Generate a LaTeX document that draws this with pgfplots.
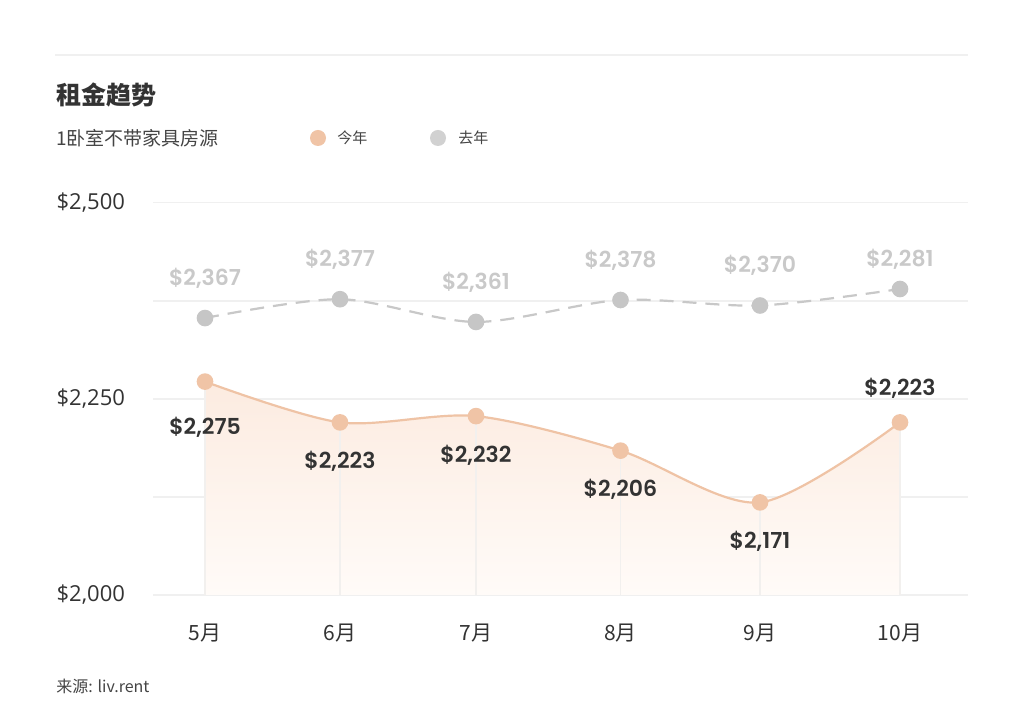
\documentclass[border=0pt]{standalone}
\usepackage{pgfplots}
\pgfplotsset{compat=1.18}
\usepackage{pgfplotstable}
\usepackage{fontspec}
\setmainfont{Open Sans}
\newfontfamily\cjk{Noto Sans CJK SC}
\IfFontExistsTF{Poppins SemiBold}
  {\newfontfamily\pop{Poppins}[BoldFont={Poppins SemiBold}]}
  {\newfontfamily\pop{Poppins}}

\definecolor{orangeline}{HTML}{EFC3A5}
\definecolor{orangedot}{HTML}{F0C4A6}
\definecolor{greydot}{HTML}{C6C6C6}
\definecolor{greyline}{HTML}{C8C8C8}
\definecolor{greytext}{HTML}{C9C9C9}
\definecolor{darktext}{HTML}{333333}
\definecolor{midtext}{HTML}{444444}
\definecolor{gridc}{HTML}{F0F0F0}
\definecolor{vline}{HTML}{F2F0EE}
\definecolor{filltop}{HTML}{FCEBE0}
\definecolor{fillbot}{HTML}{FFFBF8}

% x = horizontal position of each month, y = plotted level, label = printed value
\pgfplotstableread{
x     y     label
205   2272  2,275
340   2220  2,223
476   2228  2,232
620.5 2184  2,206
760   2118  2,171
900   2220  2,223
}\thisyear

\pgfplotstableread{
x     y     label
205   2353  2,367
340   2377  2,377
476   2348  2,361
620.5 2376  2,378
760   2369  2,370
900   2390  2,281
}\lastyear

\begin{document}
\begin{tikzpicture}[x=0.5pt,y=0.5pt]
\fill[white] (0,0) rectangle (1024,717);

% header
\draw[gridc, line width=0.75pt] (55,662) -- (968,662);
\node[anchor=west, inner sep=0pt, text=darktext,
      font=\cjk\bfseries\fontsize{12.5}{14}\selectfont] at (56,622) {租金趋势};
\node[anchor=west, inner sep=0pt, text=midtext,
      font=\cjk\fontsize{9.5}{11}\selectfont] at (56,579) {1卧室不带家具房源};
\fill[orangedot] (318,579) circle (4pt);
\node[anchor=west, inner sep=0pt, text=midtext,
      font=\cjk\fontsize{7.5}{9}\selectfont] at (337,579) {今年};
\fill[greydot!80] (438,579) circle (4pt);
\node[anchor=west, inner sep=0pt, text=midtext,
      font=\cjk\fontsize{7.5}{9}\selectfont] at (458,579) {去年};
\node[anchor=west, inner sep=0pt, text=midtext,
      font=\cjk\fontsize{8}{9}\selectfont] at (56,31) {来源: liv.rent};

\begin{axis}[
    at={(76.5pt,61pt)}, anchor=south west,
    scale only axis, width=407.5pt, height=196.15pt,
    xmin=153, xmax=968, ymin=2000, ymax=2500,
    axis line style={draw=none},
    major tick style={draw=none}, minor tick style={draw=none},
    ytick={2000,2250,2500},
    yticklabels={{\$2,000},{\$2,250},{\$2,500}},
    minor ytick={2125,2375},
    ymajorgrids, yminorgrids,
    major grid style={gridc, line width=0.75pt},
    minor grid style={gridc, line width=0.75pt},
    xtick={205,340,476,620.5,760,900},
    xticklabels={5月,6月,7月,8月,9月,10月},
    xticklabel style={font=\cjk\fontsize{10.5}{12}\selectfont, text=darktext, yshift=-11pt},
    yticklabel style={font=\fontsize{11}{12}\selectfont, text=darktext, xshift=-10.5pt},
]

% shaded area under this year's curve
\addplot[draw=none, smooth, tension=0.5, top color=filltop, bottom color=fillbot]
    table[x=x, y=y] {\thisyear} \closedcycle;
% faint drop lines
\addplot[ycomb, vline, line width=0.6pt, mark=none] table[x=x, y=y] {\thisyear};

% last year
\addplot[greyline, line width=1.1pt, dash pattern=on 7pt off 4.5pt, smooth, tension=0.5,
    mark=*, mark size=3.6pt, mark options={solid, fill=greydot, draw=greydot}]
    table[x=x, y=y] {\lastyear};
% this year
\addplot[orangeline, line width=1.1pt, smooth, tension=0.5,
    mark=*, mark size=3.6pt, mark options={fill=orangedot, draw=orangedot}]
    table[x=x, y=y] {\thisyear};

% value labels
\addplot[draw=none, mark=none, point meta=explicit symbolic,
    nodes near coords={\$\pgfplotspointmeta},
    every node near coord/.style={anchor=center, yshift=20pt, text=greytext,
        font=\pop\bfseries\fontsize{11}{12}\selectfont}]
    table[x=x, y=y, meta=label] {
x y label
205 2353 2,367
340 2377 2,377
476 2348 2,361
620.5 2376 2,378
760 2369 2,370
};
\addplot[draw=none, mark=none, point meta=explicit symbolic,
    nodes near coords={\$\pgfplotspointmeta},
    every node near coord/.style={anchor=center, yshift=15pt, text=greytext,
        font=\pop\bfseries\fontsize{11}{12}\selectfont}]
    table[x=x, y=y, meta=label] {
x y label
900 2390 2,281
};
\addplot[draw=none, mark=none, point meta=explicit symbolic,
    nodes near coords={\$\pgfplotspointmeta},
    every node near coord/.style={anchor=center, yshift=-23pt, text=darktext,
        font=\pop\bfseries\fontsize{11}{12}\selectfont}]
    table[x=x, y=y, meta=label] {
x y label
205 2272 2,275
};
\addplot[draw=none, mark=none, point meta=explicit symbolic,
    nodes near coords={\$\pgfplotspointmeta},
    every node near coord/.style={anchor=center, yshift=-19.5pt, text=darktext,
        font=\pop\bfseries\fontsize{11}{12}\selectfont}]
    table[x=x, y=y, meta=label] {
x y label
340 2220 2,223
476 2228 2,232
620.5 2184 2,206
760 2118 2,171
};
\addplot[draw=none, mark=none, point meta=explicit symbolic,
    nodes near coords={\$\pgfplotspointmeta},
    every node near coord/.style={anchor=center, yshift=17pt, text=darktext,
        font=\pop\bfseries\fontsize{11}{12}\selectfont}]
    table[x=x, y=y, meta=label] {
x y label
900 2220 2,223
};
\end{axis}

\pgfresetboundingbox
\path[use as bounding box] (0,0) rectangle (1024,717);
\end{tikzpicture}
\end{document}
